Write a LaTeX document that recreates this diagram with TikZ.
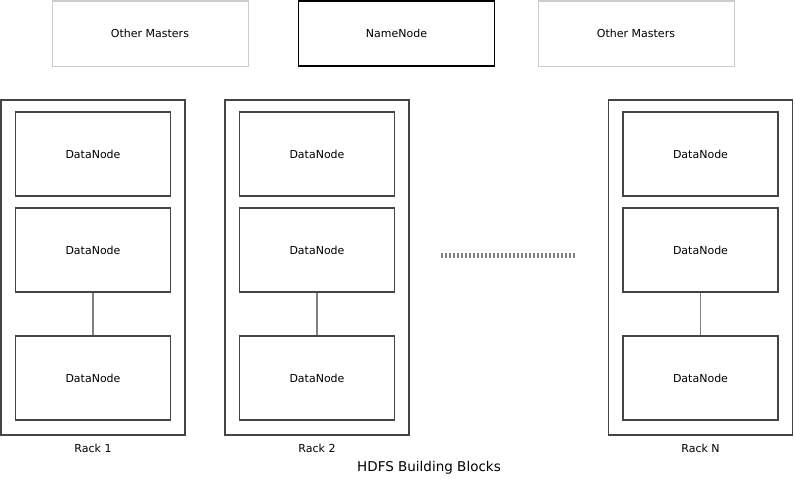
\documentclass[tikz,border=0pt]{standalone}
\usepackage{fontspec}
\setmainfont{DejaVu Sans}
\usetikzlibrary{positioning}
\definecolor{pencil}{HTML}{444444}
\definecolor{faint}{HTML}{CCCCCC}

\begin{document}
\begin{tikzpicture}[x=1pt, y=-1pt, font=\fontsize{11}{13}\selectfont,
	master/.style={draw=faint, line width=1pt, minimum width=196pt, minimum height=65pt, inner sep=0pt},
	namebox/.style={draw=black, line width=1.3pt, minimum width=196pt, minimum height=65pt, inner sep=0pt},
	rackbox/.style={draw=pencil, line width=1.1pt, minimum width=184pt, minimum height=335pt, inner sep=0pt},
	dnbox/.style={draw=pencil, line width=1.1pt, minimum width=155pt, minimum height=84pt, inner sep=0pt},
	link/.style={draw=gray, line width=1.3pt}]
	\useasboundingbox (0,0) rectangle (795,479);

	\node[master] (om1) at (150,33.5) {Other Masters};
	\node[namebox] (nn) at (396.5,33.5) {NameNode};
	\node[master] (om2) at (636,33.5) {Other Masters};

	\foreach \x/\r/\lbl in {93/r1/Rack 1, 317/r2/Rack 2, 700.5/rN/Rack N} {
		\node[rackbox] (\r) at (\x,267.5) {};
		\node[dnbox] (\r a) at (\x,154) {DataNode};
		\node[dnbox] (\r b) at (\x,250) {DataNode};
		\node[dnbox] (\r c) at (\x,378) {DataNode};
		\node[below=5pt of \r] (\r lbl) {\lbl};
		\draw[link] (\r b) -- (\r c);
	}

	\coordinate (dotsL) at (441,255);
	\coordinate (dotsR) at (575,255);
	\draw[draw=gray, line width=5pt, dash pattern=on 1.6pt off 2.4pt] (dotsL) -- (dotsR);

	\node[font=\fontsize{13.5}{16}\selectfont] (caption) at (429,468) {HDFS Building Blocks};
\end{tikzpicture}
\end{document}
